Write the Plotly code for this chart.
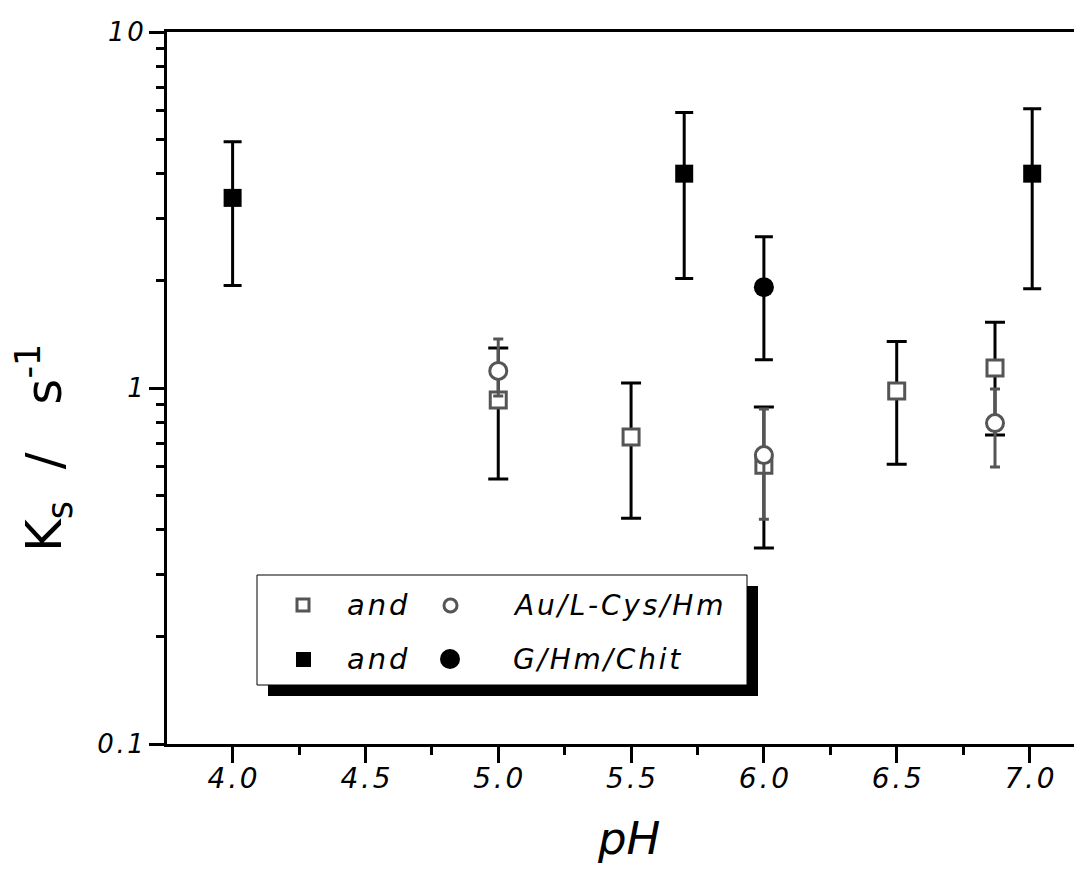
import plotly.graph_objects as go

# ---- data ----
ph_open_sq = [5.0, 5.5, 6.0, 6.5, 6.87]
ks_open_sq = [0.925, 0.728, 0.607, 0.98, 1.138]
hi_open_sq = [1.296, 1.033, 0.884, 1.35, 1.53]
lo_open_sq = [0.555, 0.431, 0.355, 0.611, 0.738]

ph_open_ci = [5.0, 6.0, 6.87]
ks_open_ci = [1.117, 0.648, 0.797]
hi_open_ci = [1.374, 0.873, 0.993]
lo_open_ci = [0.95, 0.428, 0.60]

ph_fill_sq = [4.0, 5.7, 7.01]
ks_fill_sq = [3.42, 4.0, 4.0]
hi_fill_sq = [4.92, 5.94, 6.09]
lo_fill_sq = [1.94, 2.03, 1.90]

ph_fill_ci = [6.0]
ks_fill_ci = [1.92]
hi_fill_ci = [2.66]
lo_fill_ci = [1.20]

x_ticks = [4.0, 4.5, 5.0, 5.5, 6.0, 6.5, 7.0]
x_minor = [3.75, 4.25, 4.75, 5.25, 5.75, 6.25, 6.75]
y_ticks = [0.1, 1, 10]
y_tick_labels = ["0.1", "1", "10"]
y_minor = [0.2, 0.3, 0.4, 0.5, 0.6, 0.7, 0.8, 0.9, 2, 3, 4, 5, 6, 7, 8, 9]

legend_rows = [("and", "Au/L-Cys/Hm"), ("and", "G/Hm/Chit")]

GRAY = "#555555"
FONT = "DejaVu Sans"
HS = "\u200a"  # hair space for wider letter spacing
NB = "\u00a0"


def spaced(s):
    return HS.join(list(s))


OFF = 8  # page body offset
W, H = 1082 - OFF, 884 - OFF
PL, PR, PT, PB = 167, 1080, 32, 744  # plot area in page pixels
L = PL - OFF
T = PT - OFF
R = W - L - (PR - PL)
B = H - T - (PB - PT)
PW, PHh = PR - PL, PB - PT


def px(x):
    return (x - PL) / PW


def py(y):
    return (PB - y) / PHh


def err(vals, hi, lo, color, width, thick):
    return dict(type="data", symmetric=False,
                array=[h - v for h, v in zip(hi, vals)],
                arrayminus=[v - l for v, l in zip(vals, lo)],
                color=color, width=width, thickness=thick)


fig = go.Figure()
fig.add_trace(go.Scatter(x=ph_open_sq, y=ks_open_sq, mode="markers",
                         marker=dict(symbol="square", size=16, color="white",
                                     line=dict(color=GRAY, width=3)),
                         error_y=err(ks_open_sq, hi_open_sq, lo_open_sq, "black", 10, 3)))
fig.add_trace(go.Scatter(x=ph_open_ci, y=ks_open_ci, mode="markers",
                         marker=dict(symbol="circle", size=17, color="white",
                                     line=dict(color=GRAY, width=3)),
                         error_y=err(ks_open_ci, hi_open_ci, lo_open_ci, GRAY, 5, 3)))
fig.add_trace(go.Scatter(x=ph_fill_sq, y=ks_fill_sq, mode="markers",
                         marker=dict(symbol="square", size=18, color="black",
                                     line=dict(color="black", width=0)),
                         error_y=err(ks_fill_sq, hi_fill_sq, lo_fill_sq, "black", 9, 3)))
fig.add_trace(go.Scatter(x=ph_fill_ci, y=ks_fill_ci, mode="markers",
                         marker=dict(symbol="circle", size=20, color="black",
                                     line=dict(color="black", width=0)),
                         error_y=err(ks_fill_ci, hi_fill_ci, lo_fill_ci, "black", 9, 3)))

fig.update_xaxes(range=[3.753, 7.19], showline=True, linecolor="black", linewidth=3,
                 mirror=True, ticks="outside", ticklen=16, tickwidth=3, tickcolor="black",
                 tickvals=x_ticks,
                 ticktext=["<i>" + spaced("%.1f" % v) + "</i>" for v in x_ticks],
                 ticklabelstandoff=-9,
                 minor=dict(tickvals=x_minor, ticks="outside", ticklen=8, tickwidth=3,
                            tickcolor="black"),
                 tickfont=dict(family=FONT, size=28, color="black"),
                 showgrid=False, zeroline=False)
fig.update_yaxes(type="log", range=[-1, 1], showline=True, linecolor="black", linewidth=3,
                 ticks="outside", ticklen=15, tickwidth=3, tickcolor="black",
                 tickvals=y_ticks,
                 ticktext=["<i>" + spaced(s) + "</i>" for s in y_tick_labels],
                 minor=dict(tickvals=y_minor, ticks="outside", ticklen=8, tickwidth=3,
                            tickcolor="black"),
                 tickfont=dict(family=FONT, size=26, color="black"),
                 showgrid=False, zeroline=False)

shapes = []
# legend shadow and box
shapes.append(dict(type="rect", xref="paper", yref="paper",
                   x0=px(268), x1=px(758), y0=py(696), y1=py(586),
                   fillcolor="black", line=dict(width=0), layer="above"))
shapes.append(dict(type="rect", xref="paper", yref="paper",
                   x0=px(257), x1=px(747), y0=py(685), y1=py(575),
                   fillcolor="white", line=dict(color="black", width=1), layer="above"))
# legend symbols
rows_y = [605, 659]
shapes.append(dict(type="rect", xref="paper", yref="paper",
                   x0=px(297), x1=px(309), y0=py(611), y1=py(599),
                   fillcolor="white", line=dict(color=GRAY, width=3), layer="above"))
shapes.append(dict(type="circle", xref="paper", yref="paper",
                   x0=px(444), x1=px(457), y0=py(612), y1=py(599),
                   fillcolor="white", line=dict(color=GRAY, width=3), layer="above"))
shapes.append(dict(type="rect", xref="paper", yref="paper",
                   x0=px(296), x1=px(311), y0=py(667), y1=py(652),
                   fillcolor="black", line=dict(width=0), layer="above"))
shapes.append(dict(type="circle", xref="paper", yref="paper",
                   x0=px(440), x1=px(460), y0=py(669), y1=py(649),
                   fillcolor="black", line=dict(width=0), layer="above"))

annotations = []
for (a, lab), yy in zip(legend_rows, rows_y):
    annotations.append(dict(x=px(377), y=py(yy), xref="paper", yref="paper",
                            text="<i>" + spaced(a) + "</i>", showarrow=False,
                            xanchor="center", yanchor="middle",
                            font=dict(family=FONT, size=29, color="black")))
    annotations.append(dict(x=px(511), y=py(yy), xref="paper", yref="paper",
                            text="<i>" + spaced(lab) + "</i>", showarrow=False,
                            xanchor="left", yanchor="middle",
                            font=dict(family=FONT, size=28, color="black")))

annotations.append(dict(x=px(628), y=py(838), xref="paper", yref="paper",
                        text="<i>pH</i>", showarrow=False, xanchor="center", yanchor="middle",
                        font=dict(family=FONT, size=45, color="black")))
annotations.append(dict(x=px(44), y=py(448), xref="paper", yref="paper",
                        text="K<sub>s</sub>" + NB * 2 + "/" + NB * 3 + "s<sup>-1</sup>",
                        textangle=-90, showarrow=False, xanchor="center", yanchor="middle",
                        font=dict(family=FONT, size=50, color="black")))

fig.update_layout(width=W, height=H, margin=dict(l=L, r=R, t=T, b=B, pad=0),
                  plot_bgcolor="white", paper_bgcolor="white", showlegend=False,
                  shapes=shapes, annotations=annotations)

fig.write_html("out.html")
